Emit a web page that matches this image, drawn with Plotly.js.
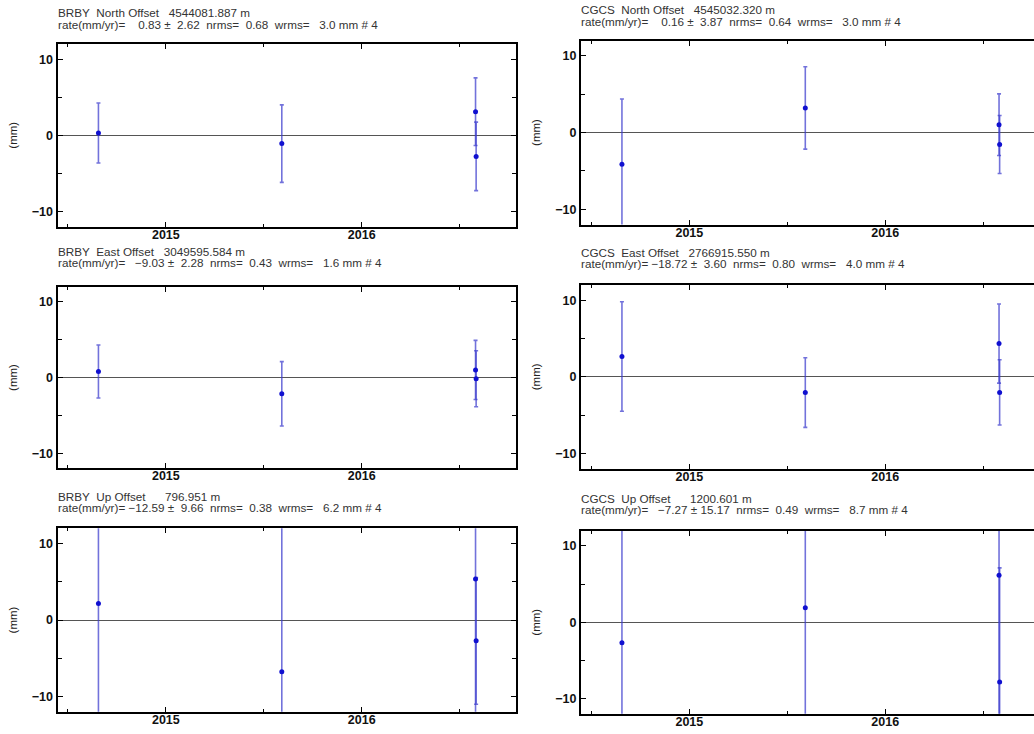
<!DOCTYPE html>
<html>
<head>
<meta charset="utf-8">
<script src="https://cdn.plot.ly/plotly-3.0.1.min.js"></script>
<style>
html,body{margin:0;padding:0;overflow:hidden;background:#fff;}
#chart{width:1040px;height:734px;}
</style>
</head>
<body>
<div id="chart"></div>
<script>
// ---- data (decimal year, mm) ----
const dates = [2014.656, 2015.592, 2016.581, 2016.584];

const brbyNorth = [0.30, -1.10, 3.10, -2.78];
const brbyNorthErr = [3.95, 5.10, 4.45, 4.50];
const brbyEast = [0.80, -2.15, 1.00, -0.17];
const brbyEastErr = [3.50, 4.25, 3.90, 3.70];
const brbyUp = [2.15, -6.77, 5.36, -2.73];
const brbyUpErr = [18.0, 22.0, 18.0, 8.30];

const cgcsNorth = [-4.13, 3.20, 1.02, -1.57];
const cgcsNorthErr = [8.50, 5.37, 4.02, 3.78];
const cgcsEast = [2.66, -2.05, 4.35, -2.03];
const cgcsEastErr = [7.16, 4.55, 5.17, 4.26];
const cgcsUp = [-2.70, 1.91, 6.17, -7.83];
const cgcsUpErr = [16.0, 16.0, 20.0, 14.96];

const titles1 = [
  "BRBY  North Offset   4544081.887 m",
  "CGCS  North Offset   4545032.320 m",
  "BRBY  East Offset   3049595.584 m",
  "CGCS  East Offset   2766915.550 m",
  "BRBY  Up Offset      796.951 m",
  "CGCS  Up Offset      1200.601 m"
];
const titles2 = [
  "rate(mm/yr)=    0.83 \u00b1  2.62  nrms=  0.68  wrms=   3.0 mm # 4",
  "rate(mm/yr)=    0.16 \u00b1  3.87  nrms=  0.64  wrms=   3.0 mm # 4",
  "rate(mm/yr)=   \u22129.03 \u00b1  2.28  nrms=  0.43  wrms=   1.6 mm # 4",
  "rate(mm/yr)= \u221218.72 \u00b1  3.60  nrms=  0.80  wrms=   4.0 mm # 4",
  "rate(mm/yr)= \u221212.59 \u00b1  9.66  nrms=  0.38  wrms=   6.2 mm # 4",
  "rate(mm/yr)=   \u22127.27 \u00b1 15.17  nrms=  0.49  wrms=   8.7 mm # 4"
];
const yTitle = "(mm)";
const xTickVals = [2015, 2016];
const xTickText = ["2015", "2016"];
const yTickVals = [-10, 0, 10];
const yTickText = ["\u221210", "0", "10"];

const series = [brbyNorth, cgcsNorth, brbyEast, cgcsEast, brbyUp, cgcsUp];
const errors = [brbyNorthErr, cgcsNorthErr, brbyEastErr, cgcsEastErr, brbyUpErr, cgcsUpErr];

// ---- layout geometry (pixels) ----
const W = 1040, H = 734;
const panels = [
  {x0: 57.5, x1: 515.5, y0: 44,    y1: 226.5, t1: 12.5, t2: 24.5, tx: 55.5},
  {x0: 581,  x1: 1039,  y0: 40.5,  y1: 224.5, t1: 10,   t2: 21.5, tx: 578.5},
  {x0: 57.5, x1: 515.5, y0: 286.7, y1: 468.3, t1: 251,  t2: 262.5, tx: 55.5},
  {x0: 581,  x1: 1039,  y0: 285,   y1: 468.7, t1: 252.5, t2: 263.5, tx: 578.5},
  {x0: 57.5, x1: 515.5, y0: 528.3, y1: 711.7, t1: 496,  t2: 507.5, tx: 55.5},
  {x0: 581,  x1: 1039,  y0: 530.7, y1: 713.7, t1: 498.5, t2: 509.5, tx: 578.5}
];

const FONT = "Liberation Sans, Arial, Helvetica, sans-serif";
const traces = [];
const layout = {
  width: W, height: H,
  margin: {l: 0, r: 0, t: 0, b: 0},
  paper_bgcolor: "#fff", plot_bgcolor: "#fff",
  showlegend: false,
  font: {family: FONT, color: "#000"},
  annotations: []
};

panels.forEach((p, i) => {
  const n = i + 1;
  const xa = n === 1 ? "x" : "x" + n;
  const ya = n === 1 ? "y" : "y" + n;
  traces.push({
    type: "scatter", mode: "markers",
    x: dates, y: series[i],
    xaxis: xa, yaxis: ya,
    marker: {color: "#1010d0", size: 5},
    error_y: {type: "data", array: errors[i], visible: true,
              color: "rgba(60,60,205,0.72)", thickness: 1.6, width: 2},
    cliponaxis: true,
    hoverinfo: "none"
  });
  const xk = n === 1 ? "xaxis" : "xaxis" + n;
  const yk = n === 1 ? "yaxis" : "yaxis" + n;
  layout[xk] = {
    domain: [p.x0 / W, p.x1 / W],
    anchor: ya,
    range: [2014.447, 2016.785],
    tickmode: "array", tickvals: xTickVals, ticktext: xTickText,
    ticks: "inside", ticklen: 5, tickwidth: 1, tickcolor: "#000",
    minor: {tickmode: "linear", tick0: 2014.5, dtick: 0.5, ticks: "inside", ticklen: 3, tickcolor: "#000", showgrid: false},
    showline: true, linecolor: "#000", linewidth: 2, mirror: "ticks",
    showgrid: false, zeroline: false,
    ticklabelstandoff: -5,
    tickfont: {family: FONT, size: 12.5, weight: "bold", color: "#111"},
    fixedrange: true
  };
  layout[yk] = {
    domain: [1 - p.y1 / H, 1 - p.y0 / H],
    anchor: xa,
    range: [-12, 12],
    tickmode: "array", tickvals: yTickVals, ticktext: yTickText,
    ticks: "inside", ticklen: 5, tickwidth: 1, tickcolor: "#000",
    minor: {tickmode: "linear", tick0: 0, dtick: 5, ticks: "inside", ticklen: 4, tickcolor: "#000", showgrid: false},
    showline: true, linecolor: "#000", linewidth: 2, mirror: "ticks",
    showgrid: false,
    zeroline: true, zerolinecolor: "#555", zerolinewidth: 1,
    tickfont: {family: FONT, size: 12.5, weight: "bold", color: "#111"},
    title: {text: yTitle, font: {family: FONT, size: 11.5, color: "#222"}, standoff: 12},
    fixedrange: true
  };
  const nb = s => s.replace(/ /g, "\u00a0");
  layout.annotations.push({
    xref: "paper", yref: "paper", x: p.tx / W, y: 1 - p.t1 / H,
    xanchor: "left", yanchor: "middle", showarrow: false,
    text: nb(titles1[i]), font: {family: FONT, size: 11.7, color: "#333"}
  });
  layout.annotations.push({
    xref: "paper", yref: "paper", x: p.tx / W, y: 1 - p.t2 / H,
    xanchor: "left", yanchor: "middle", showarrow: false,
    text: nb(titles2[i]), font: {family: FONT, size: 11.7, color: "#333"}
  });
});

Plotly.newPlot("chart", traces, layout, {displayModeBar: false, staticPlot: true});
</script>
</body>
</html>
